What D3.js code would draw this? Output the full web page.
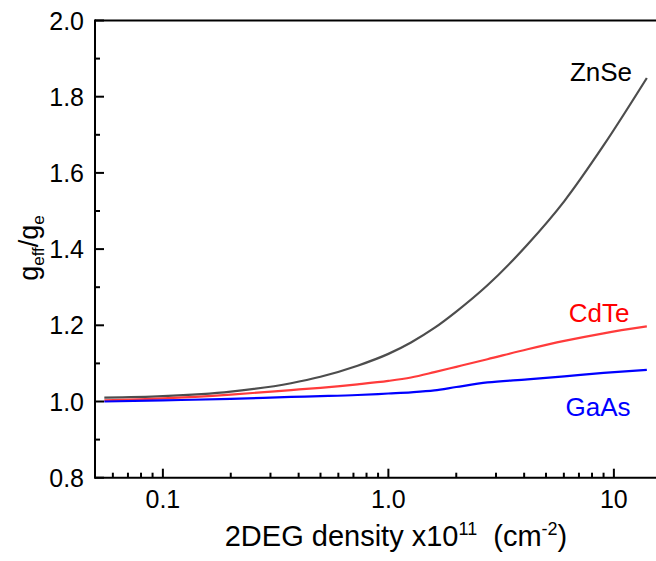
<!DOCTYPE html>
<html>
<head>
<meta charset="utf-8">
<script src="https://cdn.jsdelivr.net/npm/d3@7"></script>
<style>
  body { margin: 0; background: white; }
  text { font-family: "Liberation Sans", Arial, sans-serif; }
</style>
</head>
<body>
<div id="container"></div>
<script>
let w = 656;
let h = 561;

// DATA
let density = [0.055, 0.1, 0.2, 0.37, 0.5, 0.73, 1.0, 1.26, 1.6, 2.0, 2.75, 4.14, 6.03, 9.0, 14];
let znse = [1.010, 1.014, 1.026, 1.048, 1.065, 1.094, 1.125, 1.155, 1.193, 1.236, 1.305, 1.412, 1.526, 1.672, 1.849];
let cdte = [1.003, 1.008, 1.018, 1.030, 1.036, 1.045, 1.054, 1.063, 1.077, 1.091, 1.111, 1.137, 1.159, 1.179, 1.197];
let gaas = [1.000, 1.003, 1.007, 1.012, 1.014, 1.017, 1.021, 1.024, 1.029, 1.038, 1.050, 1.058, 1.066, 1.075, 1.083];

let xMajor = [0.1, 1, 10];
let xMajorLabels = ["0.1", "1.0", "10"];
let yMajor = [0.8, 1.0, 1.2, 1.4, 1.6, 1.8, 2.0];
let yMinor = [0.9, 1.1, 1.3, 1.5, 1.7, 1.9];

let series = [
  {name: "ZnSe", values: znse, color: "#4d4d4d", labelColor: "black", lx: 601, ly: 81},
  {name: "CdTe", values: cdte, color: "#ff3b3b", labelColor: "#ff0000", lx: 599, ly: 322},
  {name: "GaAs", values: gaas, color: "#0000ff", labelColor: "#0000ff", lx: 598, ly: 416}
];

// SVG
let viz = d3.select("#container").append("svg")
    .attr("width", w)
    .attr("height", h)
    .style("display", "block")
;

let plotLeft = 95, plotTop = 20.5, plotBottom = 477.7;

// SCALES
let xScale = d3.scaleLog().domain([0.05, 20]).range([plotLeft, plotLeft + Math.log10(20 / 0.05) * 225.5]);
let yScale = d3.scaleLinear().domain([0.8, 2.0]).range([plotBottom, plotTop]);

// minor x ticks: 2..9 per decade
let xMinor = [];
[0.01, 0.1, 1, 10].forEach(function(dec){
  for (let k = 2; k <= 9; k++) {
    let v = dec * k;
    if (v > 0.05 && v < 20) xMinor.push(v);
  }
});

// LINES
let lineMaker = d3.line()
    .x(function(d){ return xScale(d[0]); })
    .y(function(d){ return yScale(d[1]); })
    .curve(d3.curveMonotoneX)
;

viz.selectAll(".line").data(series).enter()
  .append("path")
    .attr("class", "line")
    .attr("d", function(s){
      return lineMaker(density.map(function(x, i){ return [x, s.values[i]]; }));
    })
    .attr("fill", "none")
    .attr("stroke", function(s){ return s.color; })
    .attr("stroke-width", 2.2)
;

viz.selectAll(".serieslabel").data(series).enter()
  .append("text")
    .attr("class", "serieslabel")
    .attr("x", function(s){ return s.lx; })
    .attr("y", function(s){ return s.ly; })
    .attr("text-anchor", "middle")
    .attr("font-size", 26)
    .attr("fill", function(s){ return s.labelColor; })
    .text(function(s){ return s.name; })
;

// FRAME (right side falls outside the picture)
let frame = viz.append("g").attr("stroke", "black").attr("stroke-width", 2).attr("fill", "none");
frame.append("line").attr("x1", plotLeft).attr("x2", w + 10).attr("y1", plotTop).attr("y2", plotTop);
frame.append("line").attr("x1", plotLeft).attr("x2", w + 10).attr("y1", plotBottom).attr("y2", plotBottom);
frame.append("line").attr("x1", plotLeft).attr("x2", plotLeft).attr("y1", plotTop - 1).attr("y2", plotBottom + 1);

// AXIS TICKS (inward)
let ticks = viz.append("g").attr("stroke", "black").attr("stroke-width", 2);
ticks.selectAll(".xmaj").data(xMajor).enter().append("line")
  .attr("x1", function(d){ return xScale(d); }).attr("x2", function(d){ return xScale(d); })
  .attr("y1", plotBottom).attr("y2", plotBottom - 9);
ticks.selectAll(".xmin").data(xMinor).enter().append("line")
  .attr("x1", function(d){ return xScale(d); }).attr("x2", function(d){ return xScale(d); })
  .attr("y1", plotBottom).attr("y2", plotBottom - 5);
ticks.selectAll(".ymaj").data(yMajor).enter().append("line")
  .attr("y1", function(d){ return yScale(d); }).attr("y2", function(d){ return yScale(d); })
  .attr("x1", plotLeft).attr("x2", plotLeft + 9);
ticks.selectAll(".ymin").data(yMinor).enter().append("line")
  .attr("y1", function(d){ return yScale(d); }).attr("y2", function(d){ return yScale(d); })
  .attr("x1", plotLeft).attr("x2", plotLeft + 5);

// TICK LABELS
viz.selectAll(".xlab").data(xMajor).enter().append("text")
  .attr("x", function(d){ return xScale(d); })
  .attr("y", 508)
  .attr("text-anchor", "middle")
  .attr("font-size", 25)
  .text(function(d, i){ return xMajorLabels[i]; });

viz.selectAll(".ylab").data(yMajor).enter().append("text")
  .attr("x", 84)
  .attr("y", function(d){ return yScale(d) + 9; })
  .attr("text-anchor", "end")
  .attr("font-size", 25)
  .text(function(d){ return d.toFixed(1); });

// AXIS TITLES
let xt = viz.append("text")
  .attr("x", 396)
  .attr("y", 546)
  .attr("text-anchor", "middle")
  .attr("font-size", 29);
xt.append("tspan").text("2DEG density x10");
xt.append("tspan").attr("font-size", 18).attr("dy", -11).text("11");
xt.append("tspan").attr("dy", 11).text("\u00a0 (cm");
xt.append("tspan").attr("font-size", 18).attr("dy", -11).text("-2");
xt.append("tspan").attr("dy", 11).text(")");

let yt = viz.append("text")
  .attr("transform", "translate(38,248) rotate(-90)")
  .attr("text-anchor", "middle")
  .attr("font-size", 27);
yt.append("tspan").text("g");
yt.append("tspan").attr("font-size", 17).attr("dy", 6).text("eff");
yt.append("tspan").attr("dy", -6).text("/g");
yt.append("tspan").attr("font-size", 17).attr("dy", 6).text("e");
</script>
</body>
</html>
